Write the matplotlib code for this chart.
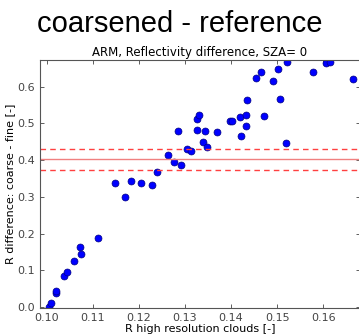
import matplotlib
matplotlib.use("Agg")
import matplotlib.pyplot as plt
import numpy as np

# high resolution reflectivity and the coarse - fine difference
r_fine = [0.1004, 0.1008, 0.1019, 0.1020, 0.1038, 0.1044, 0.1058, 0.1072, 0.1075, 0.1112,
          0.1148, 0.1170, 0.1183, 0.1204, 0.1229, 0.1239, 0.1264, 0.1277, 0.1285, 0.1292,
          0.1304, 0.1312, 0.1325, 0.1330, 0.1327, 0.1340, 0.1348, 0.1343, 0.1370, 0.1397,
          0.1403, 0.1420, 0.1422, 0.1432, 0.1433, 0.1435, 0.1454, 0.1466, 0.1472, 0.1490,
          0.1502, 0.1507, 0.1521, 0.1520, 0.1579, 0.1607, 0.1614, 0.1664]
r_diff = [0.000, 0.011, 0.037, 0.042, 0.084, 0.094, 0.126, 0.164, 0.143, 0.189,
          0.337, 0.300, 0.343, 0.337, 0.332, 0.368, 0.414, 0.395, 0.479, 0.386,
          0.431, 0.424, 0.511, 0.522, 0.483, 0.450, 0.436, 0.480, 0.478, 0.508,
          0.508, 0.517, 0.465, 0.523, 0.492, 0.565, 0.623, 0.639, 0.521, 0.615,
          0.648, 0.567, 0.668, 0.447, 0.640, 0.666, 0.667, 0.622]
mean_diff = 0.403
band = [0.373, 0.430]

fig = plt.figure(figsize=(3.59, 3.34), dpi=100)
fig.suptitle("coarsened - reference", fontsize=21, family="Liberation Sans", y=0.97)
ax = fig.add_axes([40 / 359, 26 / 334, 320 / 359, 248 / 334])

ax.plot(r_fine, r_diff, "o", color="b", markeredgecolor="#000080",
        markeredgewidth=0.5, markersize=5, clip_on=True)
ax.axhline(mean_diff, color="#f08080", lw=1)
for b in band:
    ax.axhline(b, color="#ff4040", lw=1, ls="--", dashes=(4, 3))

ax.set_xlim(0.0985, 0.168)
ax.set_ylim(-0.003, 0.673)
ax.set_xticks([0.10, 0.11, 0.12, 0.13, 0.14, 0.15, 0.16])
ax.set_yticks([0.0, 0.1, 0.2, 0.3, 0.4, 0.5, 0.6])
ax.tick_params(direction="in", top=True, right=True, labelsize=8, colors="#444444",
               length=3, width=0.6)
for s in ax.spines.values():
    s.set_color("#555555")
ax.set_title("ARM, Reflectivity difference, SZA= 0", fontsize=8.5, pad=3)
ax.set_xlabel("R high resolution clouds [-]", fontsize=8, labelpad=1)
ax.set_ylabel("R difference: coarse - fine [-]", fontsize=8, labelpad=2)

fig.savefig("out.png", dpi=100)
